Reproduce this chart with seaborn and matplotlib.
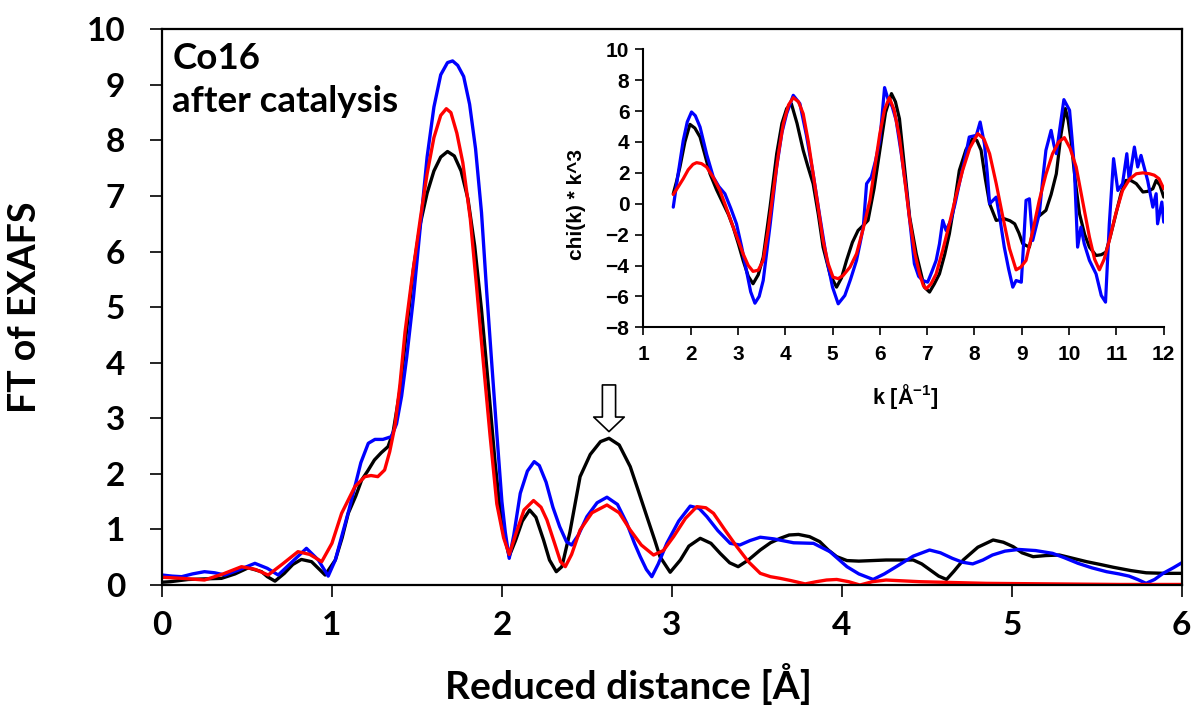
import matplotlib
matplotlib.use("Agg")
import matplotlib.pyplot as plt
import seaborn as sns

# ---- Fourier transform of EXAFS (main panel) ----
r_black = [0.0, 0.05, 0.155, 0.25, 0.35, 0.43, 0.508, 0.586, 0.62, 0.665, 0.72, 0.77, 0.82,
           0.88, 0.92, 0.96, 1.02, 1.06, 1.096, 1.14, 1.175, 1.21, 1.25, 1.29, 1.33, 1.36,
           1.40, 1.44, 1.48, 1.52, 1.56, 1.60, 1.64, 1.68, 1.72, 1.76, 1.80, 1.84, 1.88,
           1.92, 1.96, 2.0, 2.043, 2.08, 2.12, 2.163, 2.20, 2.245, 2.28, 2.32, 2.353, 2.40,
           2.46, 2.52, 2.58, 2.63, 2.69, 2.755, 2.80, 2.853, 2.90, 2.93, 2.99, 3.05, 3.10,
           3.167, 3.23, 3.284, 3.34, 3.39, 3.45, 3.52, 3.58, 3.637, 3.69, 3.745, 3.81, 3.87,
           3.92, 3.97, 4.03, 4.10, 4.26, 4.42, 4.47, 4.52, 4.57, 4.616, 4.66, 4.714, 4.80,
           4.89, 4.95, 5.008, 5.06, 5.125, 5.20, 5.28, 5.36, 5.44, 5.52, 5.596, 5.70, 5.79,
           5.90, 6.0]
ft_black = [0.05, 0.06, 0.10, 0.11, 0.12, 0.20, 0.31, 0.24, 0.15, 0.07, 0.21, 0.37, 0.46,
            0.42, 0.30, 0.18, 0.45, 0.85, 1.29, 1.60, 1.89, 2.05, 2.25, 2.38, 2.49, 2.75,
            3.5, 4.6, 5.7, 6.5, 7.05, 7.45, 7.7, 7.8, 7.72, 7.45, 6.95, 6.1, 4.95,
            3.6, 2.2, 1.05, 0.52, 0.8, 1.15, 1.35, 1.22, 0.81, 0.45, 0.24, 0.33, 0.95,
            1.95, 2.35, 2.58, 2.64, 2.52, 2.13, 1.72, 1.23, 0.80, 0.51, 0.23, 0.45, 0.70,
            0.84, 0.75, 0.57, 0.40, 0.33, 0.45, 0.63, 0.76, 0.84, 0.90, 0.91, 0.87, 0.78,
            0.63, 0.51, 0.44, 0.43, 0.45, 0.45, 0.38, 0.27, 0.16, 0.10, 0.25, 0.45, 0.68,
            0.81, 0.77, 0.69, 0.58, 0.51, 0.53, 0.54, 0.48, 0.42, 0.37, 0.32, 0.26, 0.22,
            0.21, 0.21]

r_blue = [0.0, 0.06, 0.116, 0.18, 0.25, 0.31, 0.37, 0.45, 0.547, 0.62, 0.684, 0.76, 0.85,
          0.92, 0.978, 1.02, 1.057, 1.10, 1.135, 1.17, 1.214, 1.253, 1.30, 1.35, 1.38, 1.41,
          1.44, 1.48, 1.52, 1.56, 1.60, 1.64, 1.68, 1.71, 1.74, 1.775, 1.81, 1.845, 1.88,
          1.91, 1.94, 1.97, 2.0, 2.02, 2.043, 2.07, 2.108, 2.15, 2.19, 2.22, 2.26, 2.30,
          2.34, 2.38, 2.41, 2.45, 2.50, 2.56, 2.618, 2.68, 2.735, 2.78, 2.814, 2.85, 2.882,
          2.92, 2.97, 3.04, 3.108, 3.16, 3.206, 3.27, 3.343, 3.40, 3.46, 3.52, 3.60, 3.716,
          3.833, 3.93, 4.03, 4.10, 4.184, 4.25, 4.32, 4.42, 4.516, 4.58, 4.65, 4.71, 4.77,
          4.83, 4.886, 4.96, 5.04, 5.14, 5.24, 5.31, 5.39, 5.47, 5.557, 5.63, 5.69, 5.74,
          5.79, 5.84, 5.89, 5.95, 6.0]
ft_blue = [0.18, 0.16, 0.15, 0.20, 0.24, 0.22, 0.18, 0.27, 0.39, 0.30, 0.18, 0.40, 0.66,
           0.45, 0.16, 0.45, 0.87, 1.35, 1.77, 2.20, 2.55, 2.62, 2.62, 2.67, 2.90, 3.40,
           4.10, 5.18, 6.45, 7.70, 8.60, 9.18, 9.40, 9.43, 9.35, 9.15, 8.65, 7.85, 6.70,
           5.30, 4.00, 2.73, 1.50, 0.95, 0.48, 0.90, 1.65, 2.05, 2.22, 2.15, 1.85, 1.40,
           1.05, 0.78, 0.72, 0.90, 1.23, 1.48, 1.58, 1.45, 1.11, 0.75, 0.51, 0.28, 0.15,
           0.38, 0.75, 1.15, 1.42, 1.38, 1.23, 0.98, 0.75, 0.72, 0.80, 0.86, 0.83, 0.76,
           0.75, 0.60, 0.33, 0.20, 0.10, 0.20, 0.33, 0.52, 0.63, 0.58, 0.48, 0.41, 0.38,
           0.45, 0.54, 0.61, 0.64, 0.62, 0.57, 0.49, 0.39, 0.31, 0.24, 0.20, 0.16, 0.10,
           0.03, 0.10, 0.21, 0.31, 0.40]

r_red = [0.0, 0.12, 0.25, 0.36, 0.468, 0.55, 0.625, 0.71, 0.80, 0.87, 0.94, 1.0, 1.057,
         1.135, 1.194, 1.23, 1.27, 1.31, 1.34, 1.37, 1.40, 1.43, 1.47, 1.52, 1.56, 1.60,
         1.64, 1.673, 1.70, 1.735, 1.77, 1.814, 1.85, 1.89, 1.93, 1.97, 2.01, 2.043, 2.08,
         2.13, 2.186, 2.23, 2.265, 2.31, 2.345, 2.373, 2.41, 2.46, 2.53, 2.618, 2.69, 2.755,
         2.82, 2.892, 2.95, 3.01, 3.08, 3.147, 3.20, 3.245, 3.31, 3.382, 3.45, 3.52, 3.58,
         3.637, 3.70, 3.784, 3.85, 3.91, 3.97, 4.04, 4.106, 4.18, 4.26, 4.457, 4.85, 5.24,
         5.635, 6.0]
ft_red = [0.14, 0.12, 0.09, 0.20, 0.33, 0.28, 0.18, 0.38, 0.60, 0.55, 0.42, 0.75, 1.29,
          1.77, 1.95, 1.97, 1.95, 2.07, 2.40, 2.85, 3.60, 4.55, 5.50, 6.59, 7.40, 8.05,
          8.45, 8.57, 8.50, 8.13, 7.60, 6.59, 5.40, 4.03, 2.70, 1.46, 0.85, 0.55, 0.90,
          1.35, 1.52, 1.40, 1.17, 0.75, 0.42, 0.33, 0.55, 0.99, 1.30, 1.44, 1.30, 0.99,
          0.72, 0.54, 0.62, 0.87, 1.20, 1.41, 1.39, 1.29, 1.00, 0.69, 0.42, 0.21, 0.15,
          0.12, 0.08, 0.02, 0.06, 0.09, 0.10, 0.06, 0.0, 0.06, 0.09, 0.06, 0.03, 0.02,
          0.01, 0.01]

# ---- k^3-weighted chi(k) (inset) ----
k_black = [1.634, 1.70, 1.775, 1.88, 1.986, 2.09, 2.2, 2.30, 2.41, 2.55, 2.69, 2.8, 2.9,
           3.01, 3.11, 3.22, 3.32, 3.43, 3.535, 3.68, 3.82, 3.93, 4.03, 4.13, 4.25, 4.38,
           4.48, 4.59, 4.70, 4.8, 4.95, 5.085, 5.19, 5.296, 5.42, 5.54, 5.65, 5.75, 5.88,
           6.0, 6.12, 6.246, 6.33, 6.415, 6.52, 6.63, 6.77, 6.94, 7.05, 7.15, 7.26, 7.37,
           7.47, 7.58, 7.68, 7.82, 7.96, 8.05, 8.14, 8.23, 8.32, 8.46, 8.63, 8.75, 8.85,
           8.94, 9.02, 9.16, 9.25, 9.34, 9.51, 9.62, 9.73, 9.83, 9.92, 9.98, 10.04, 10.13,
           10.22, 10.33, 10.43, 10.57, 10.68, 10.78, 10.88, 10.99, 11.1, 11.2, 11.31, 11.42,
           11.56, 11.66, 11.77, 11.84, 11.92, 12.0]
chi_black = [0.65, 1.4, 2.38, 4.0, 5.14, 4.9, 4.32, 3.2, 1.94, 0.9, 0.0, -0.7, -1.51,
             -2.6, -3.67, -4.7, -5.18, -4.6, -3.46, -0.2, 3.24, 5.2, 6.16, 6.48, 5.2, 3.46,
             2.4, 1.3, -0.7, -2.81, -4.6, -5.4, -4.8, -3.67, -2.5, -1.73, -1.4, -1.08, 1.0,
             3.46, 5.9, 7.13, 6.6, 5.5, 2.4, -0.86, -3.24, -5.4, -5.72, -5.2, -4.54, -3.3,
             -1.94, 0.1, 2.16, 3.5, 4.21, 4.1, 3.46, 1.6, 0.0, -1.08, -0.97, -1.1, -1.3,
             -1.9, -2.59, -2.81, -1.6, -0.86, -0.43, 0.6, 1.94, 4.5, 6.16, 5.4, 4.1, 1.5,
             -0.65, -2.0, -2.81, -3.35, -3.3, -3.13, -2.0, -0.65, 0.7, 1.51, 1.5, 1.3,
             0.76, 0.8, 0.97, 1.51, 1.2, 0.43]

k_blue = [1.634, 1.74, 1.845, 1.93, 2.02, 2.1, 2.2, 2.34, 2.48, 2.6, 2.725, 2.85, 2.97,
          3.08, 3.18, 3.27, 3.36, 3.45, 3.535, 3.68, 3.82, 3.93, 4.03, 4.17, 4.31, 4.45,
          4.59, 4.73, 4.87, 5.0, 5.12, 5.26, 5.38, 5.507, 5.58, 5.65, 5.72, 5.82, 5.91,
          6.0, 6.05, 6.1, 6.17, 6.26, 6.345, 6.45, 6.56, 6.65, 6.73, 6.82, 6.91, 7.01,
          7.1, 7.19, 7.26, 7.33, 7.4, 7.5, 7.59, 7.68, 7.79, 7.89, 8.04, 8.12, 8.21, 8.27,
          8.32, 8.46, 8.55, 8.63, 8.72, 8.81, 8.88, 8.99, 9.04, 9.09, 9.16, 9.23, 9.37,
          9.44, 9.51, 9.62, 9.68, 9.73, 9.81, 9.89, 10.01, 10.06, 10.11, 10.18, 10.25,
          10.32, 10.43, 10.57, 10.68, 10.77, 10.85, 10.94, 11.03, 11.13, 11.22, 11.27,
          11.38, 11.45, 11.52, 11.66, 11.77, 11.84, 11.87, 11.96, 12.0]
chi_blue = [-0.22, 2.0, 4.1, 5.3, 5.94, 5.7, 4.97, 3.2, 1.73, 1.1, 0.65, -0.3, -1.3,
            -2.8, -4.32, -5.7, -6.44, -6.0, -4.97, -1.4, 2.38, 4.6, 5.83, 7.02, 6.48, 4.4,
            1.94, -0.8, -3.46, -5.4, -6.48, -5.94, -4.9, -3.67, -2.6, -1.51, 1.3, 1.73, 2.8,
            4.1, 5.8, 7.52, 6.8, 6.3, 5.4, 3.3, 0.86, -1.6, -3.89, -4.7, -4.97, -5.08,
            -4.4, -3.67, -2.6, -1.08, -1.73, -1.08, 0.0, 1.3, 2.8, 4.32, 4.43, 5.29, 3.89, 2.0,
            0.0, 0.43, -1.2, -2.81, -4.2, -5.4, -4.97, -5.08, -2.5, 0.22, 0.32, -2.38, -0.65,
            1.5, 3.46, 4.75, 3.8, 3.24, 5.0, 6.74, 6.05, 4.3, 2.38, -2.81, -1.51,
            -2.59, -3.67, -4.54, -5.94, -6.37, -1.3, 2.92, 0.86, 1.3, 3.24, 1.51,
            3.67, 2.38, 3.13, 1.51, -0.22, 0.65, -1.3, 0.11, -1.19]

k_red = [1.634, 1.75, 1.845, 1.95, 2.05, 2.127, 2.23, 2.338, 2.48, 2.62, 2.76, 2.9, 3.01,
         3.11, 3.22, 3.32, 3.43, 3.535, 3.64, 3.75, 3.86, 3.96, 4.07, 4.17, 4.28, 4.38,
         4.49, 4.59, 4.70, 4.80, 4.91, 5.01, 5.12, 5.225, 5.37, 5.507, 5.65, 5.79, 5.9,
         6.0, 6.1, 6.2, 6.3, 6.415, 6.52, 6.63, 6.74, 6.84, 6.92, 6.98, 7.08, 7.19, 7.33,
         7.47, 7.61, 7.75, 7.9, 8.07, 8.2, 8.32, 8.46, 8.6, 8.74, 8.88, 8.98, 9.09, 9.23,
         9.37, 9.51, 9.65, 9.78, 9.9, 10.02, 10.15, 10.29, 10.43, 10.54, 10.64, 10.74,
         10.85, 10.99, 11.13, 11.28, 11.42, 11.56, 11.7, 11.8, 11.9, 12.0]
chi_red = [0.6, 1.15, 1.62, 2.2, 2.55, 2.66, 2.6, 2.38, 1.7, 0.86, -0.3, -1.51, -2.4,
           -3.24, -4.0, -4.38, -4.3, -3.67, -1.7, 0.86, 3.3, 5.18, 6.4, 6.87, 6.6, 5.83,
           4.0, 1.94, -0.3, -2.38, -3.9, -4.75, -4.85, -4.64, -4.1, -3.24, -1.6, 0.22, 2.5,
           4.54, 6.1, 6.87, 6.1, 4.3, 1.7, -1.0, -3.2, -4.54, -5.3, -5.5, -5.2, -4.54, -3.0,
           -1.3, 0.5, 2.16, 3.6, 4.54, 4.2, 3.24, 1.3, -0.86, -2.9, -4.28, -4.1, -3.67, -1.8,
           0.22, 1.9, 3.24, 4.0, 4.28, 3.6, 2.38, 0.1, -2.16, -3.6, -4.28, -3.6,
           -2.38, -0.6, 0.86, 1.6, 1.94, 2.0, 1.94, 1.85, 1.62, 0.97]

main_xticks = [0, 1, 2, 3, 4, 5, 6]
main_yticks = [0, 1, 2, 3, 4, 5, 6, 7, 8, 9, 10]
inset_xticks = [1, 2, 3, 4, 5, 6, 7, 8, 9, 10, 11, 12]
inset_yticks = [-8, -6, -4, -2, 0, 2, 4, 6, 8, 10]

sns.set_theme(style="ticks")
plt.rcParams["font.family"] = ["Lato", "DejaVu Sans"]
plt.rcParams["font.weight"] = "bold"
plt.rcParams["text.color"] = "black"
plt.rcParams["axes.labelcolor"] = "black"
plt.rcParams["mathtext.fontset"] = "custom"
plt.rcParams["mathtext.rm"] = "Liberation Sans:bold"
plt.rcParams["mathtext.bf"] = "Liberation Sans:bold"

fig = plt.figure(figsize=(11.97, 7.08), dpi=100)
ax = fig.add_axes([0.1353, 0.1737, 0.852, 0.785])

for x, y, c in [(r_black, ft_black, "black"), (r_blue, ft_blue, "#0000ff"), (r_red, ft_red, "#ff0000")]:
    sns.lineplot(x=x, y=y, ax=ax, color=c, lw=2.4, sort=False, estimator=None)

ax.set_xlim(0, 6)
ax.set_ylim(0, 10)
ax.set_xticks(main_xticks)
ax.set_yticks(main_yticks)
for s in ax.spines.values():
    s.set_visible(True)
    s.set_linewidth(1.6)
    s.set_color("black")
ax.tick_params(axis="both", direction="out", length=8.5, width=1.2, colors="black",
               labelsize=24)
ax.tick_params(axis="y", pad=18)
ax.tick_params(axis="x", pad=10)
for lab in ax.get_xticklabels() + ax.get_yticklabels():
    lab.set_fontweight("bold")

ax.set_xlabel("Reduced distance [Å]", fontsize=28, fontweight="bold", color="black")
ax.set_ylabel("FT of EXAFS", fontsize=27, fontweight="bold", color="black")
ax.xaxis.set_label_coords(0.457, -0.14)
ax.yaxis.set_label_coords(-0.118, 0.5)

ax.text(0.01, 0.977, "Co16\nafter catalysis", transform=ax.transAxes, fontsize=26.5,
        fontweight="bold", va="top", ha="left", linespacing=1.38, color="black")

# hollow arrow marking the feature near 2.6 Å
ax.annotate("", xy=(2.63, 2.76), xytext=(2.63, 3.6),
            arrowprops=dict(arrowstyle="simple,head_length=1.05,head_width=2.2,tail_width=0.95",
                            mutation_scale=10, fc="white", ec="black", lw=1.2,
                            shrinkA=0, shrinkB=0))

# ---- inset ----
axi = fig.add_axes([0.5374, 0.5377, 0.4348, 0.3927])
axi.patch.set_alpha(0)
for x, y, c in [(k_black, chi_black, "black"), (k_blue, chi_blue, "#0000ff"), (k_red, chi_red, "#ff0000")]:
    sns.lineplot(x=x, y=y, ax=axi, color=c, lw=2.3, sort=False, estimator=None)
axi.set_xlim(1, 12)
axi.set_ylim(-8, 10)
axi.set_xticks(inset_xticks)
axi.set_yticks(inset_yticks)
axi.spines["top"].set_visible(False)
axi.spines["right"].set_visible(False)
for s in ("left", "bottom"):
    axi.spines[s].set_linewidth(1.5)
    axi.spines[s].set_color("black")
axi.tick_params(axis="both", direction="out", length=6, width=1.2, colors="black",
                labelsize=15)
axi.tick_params(axis="y", pad=4)
axi.tick_params(axis="x", pad=7)
for lab in axi.get_xticklabels() + axi.get_yticklabels():
    lab.set_fontfamily("Liberation Sans")
    lab.set_fontweight("bold")
axi.set_xlabel(r"k [Å$^{\mathbf{-1}}$]", fontsize=15.5, fontweight="bold",
               family="Liberation Sans", color="black")
axi.set_ylabel("chi(k) * k^3", fontsize=15, fontweight="bold",
               family="Liberation Sans", color="black")
axi.xaxis.set_label_coords(0.503, -0.195)
axi.yaxis.set_label_coords(-0.11, 0.44)

fig.savefig("out.png", dpi=100)
